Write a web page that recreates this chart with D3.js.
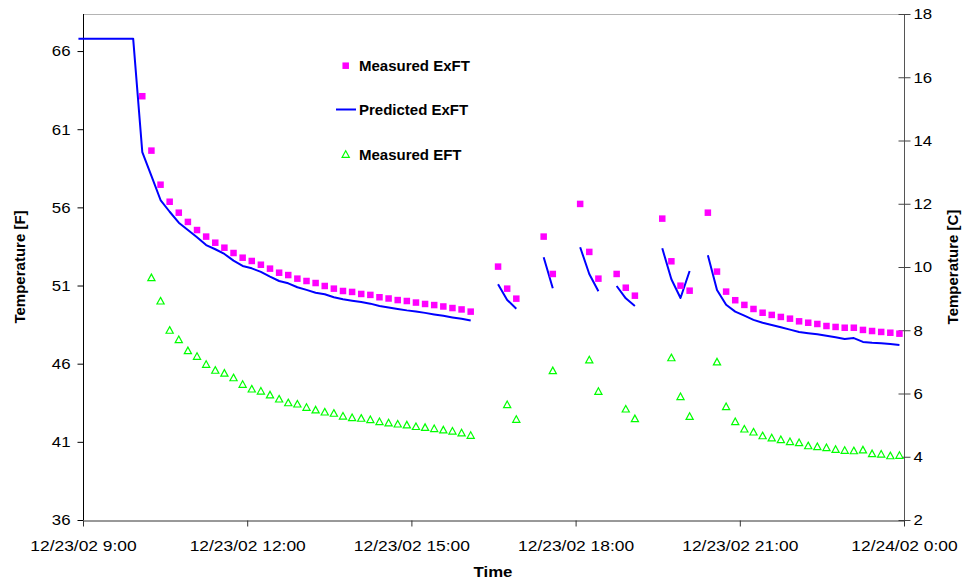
<!DOCTYPE html>
<html>
<head>
<meta charset="utf-8">
<script src="https://cdn.jsdelivr.net/npm/d3@7/dist/d3.min.js"></script>
<style>
  html, body { margin: 0; padding: 0; background: #fff; }
  svg { display: block; font-family: "Liberation Sans", Arial, sans-serif; }
</style>
</head>
<body>
<svg id="chart" width="963" height="581"></svg>
<script>
// Samples are logged every 10 minutes, starting at 8:55 on 12/23/02.
const sampleStart = new Date(2002, 11, 23, 8, 55);
const sampleStepMinutes = 10;

// Measured exiting fluid temperature [F] (null = no reading)
const measuredExFT = [
  null, null, null, null, null, null, null,
  63.11, 59.63, 57.45, 56.36, 55.66, 55.07, 54.55, 54.13, 53.74, 53.42,
  53.08, 52.78, 52.57, 52.33, 52.08, 51.82, 51.67, 51.44, 51.29, 51.16,
  50.97, 50.80, 50.65, 50.59, 50.46, 50.40, 50.25,
  50.17, 50.07, 50.01, 49.91, 49.82, 49.75, 49.66, 49.56, 49.47, 49.33,
  null, null,
  52.21, 50.80, 50.16,
  null, null,
  54.13, 51.74,
  null, null,
  56.22, 53.15, 51.44,
  null,
  51.74, 50.86, 50.35,
  null, null,
  55.28, 52.55, 50.99, 50.67,
  null,
  55.66, 51.89, 50.61, 50.06,
  49.76, 49.50, 49.26, 49.12, 48.99, 48.88, 48.71, 48.62, 48.54, 48.41,
  48.35, 48.30, 48.30, 48.16, 48.09, 48.03, 47.98, 47.92
];

// Predicted exiting fluid temperature [F]
const predictedExFT = [
  66.79, 66.79, 66.79, 66.79, 66.79, 66.79, 66.79,
  59.53, 58.01, 56.47, 55.72, 55.02, 54.55, 54.09, 53.59, 53.32, 53.02,
  52.59, 52.25, 52.10, 51.87, 51.57, 51.29, 51.14, 50.89, 50.72, 50.54,
  50.44, 50.25, 50.12, 50.03, 49.95, 49.84, 49.69,
  49.60, 49.50, 49.41, 49.34, 49.25, 49.15, 49.06, 48.96, 48.87, 48.76,
  null, null,
  51.08, 50.08, 49.52,
  null, null,
  52.81, 50.82,
  null, null,
  53.45, 51.74, 50.63,
  null,
  50.97, 50.18, 49.69,
  null, null,
  53.38, 51.40, 50.20, 51.93,
  null,
  52.94, 50.72, 49.77, 49.33,
  49.07, 48.80, 48.62, 48.48, 48.33, 48.18, 48.03, 47.95, 47.88, 47.79,
  47.69, 47.58, 47.64, 47.39, 47.34, 47.31, 47.26, 47.20
];

// Measured entering fluid temperature [F]
const measuredEFT = [
  null, null, null, null, null, null, null, null,
  51.50, 50.01, 48.14, 47.54, 46.83, 46.47, 45.96, 45.58, 45.39,
  45.10, 44.68, 44.38, 44.25, 44.00, 43.74, 43.50, 43.42, 43.21, 43.04,
  42.91, 42.83, 42.65, 42.55, 42.51, 42.42, 42.29,
  42.21, 42.14, 42.08, 41.98, 41.92, 41.85, 41.76, 41.69, 41.57, 41.42,
  null, null,
  null, 43.38, 42.44,
  null, null,
  null, 45.55,
  null, null,
  null, 46.24, 44.23,
  null,
  null, 43.10, 42.48,
  null, null,
  null, 46.38, 43.89, 42.63,
  null,
  null, 46.11, 43.25, 42.29,
  41.82, 41.63, 41.39, 41.25, 41.14, 41.01, 40.95, 40.75, 40.69, 40.63,
  40.52, 40.46, 40.43, 40.48, 40.24, 40.22, 40.11, 40.14
];

// Axis settings
const timeStart = new Date(2002, 11, 23, 9, 0);
const timeEnd = new Date(2002, 11, 24, 0, 0);
const leftTicksF = [36, 41, 46, 51, 56, 61, 66];
const leftDomainF = [36, 68.37];
const rightTicksC = [2, 4, 6, 8, 10, 12, 14, 16, 18];
const rightDomainC = [2, 18];

const seriesNames = ["Measured ExFT", "Predicted ExFT", "Measured EFT"];

const times = measuredExFT.map((_, i) => d3.timeMinute.offset(sampleStart, i * sampleStepMinutes));

const svg = d3.select("#chart");
const plot = { left: 83, right: 904, top: 14, bottom: 520 };

const x = d3.scaleTime().domain([timeStart, timeEnd]).range([plot.left, plot.right]);
const yF = d3.scaleLinear().domain(leftDomainF).range([plot.bottom, plot.top]);
const yC = d3.scaleLinear().domain(rightDomainC).range([plot.bottom, plot.top]);

const magenta = "#ff00ff", blue = "#0000ff", green = "#00ff00";
const fontSize = "15px";
const fontFamily = "Liberation Sans, Arial, sans-serif";

// widen axis lettering slightly, as the chart's text is set wide
function widen(sel, k) {
  sel.each(function () {
    const w = this.getComputedTextLength();
    d3.select(this).attr("textLength", w * k).attr("lengthAdjust", "spacingAndGlyphs");
  });
}

// top frame line
svg.append("line")
  .attr("x1", plot.left).attr("x2", plot.right)
  .attr("y1", plot.top + 0.5).attr("y2", plot.top + 0.5)
  .attr("stroke", "#b4b4b4").attr("stroke-width", 1);

// left axis (F)
const gLeft = svg.append("g")
  .attr("transform", `translate(${plot.left + 0.5},0)`)
  .call(d3.axisLeft(yF).tickValues(leftTicksF).tickSize(6).tickSizeOuter(0).tickPadding(7));
gLeft.select(".domain").attr("stroke", "#000").attr("d", `M0,${plot.top}V${plot.bottom}`);
gLeft.selectAll(".tick line").attr("stroke", "#000");
gLeft.selectAll(".tick text").attr("font-size", fontSize).attr("fill", "#000")
  .attr("font-family", fontFamily).call(widen, 1.12);

// right axis (C), ticks crossing the axis
const gRight = svg.append("g")
  .attr("transform", `translate(${plot.right + 0.5},0)`)
  .call(d3.axisRight(yC).tickValues(rightTicksC).tickSize(6).tickSizeOuter(0).tickPadding(3));
gRight.select(".domain").attr("stroke", "#555").attr("d", `M0,${plot.top}V${plot.bottom}`);
gRight.selectAll(".tick line").attr("stroke", "#444").attr("x1", -6).attr("x2", 6);
gRight.selectAll(".tick text").attr("font-size", fontSize).attr("fill", "#000")
  .attr("font-family", fontFamily).call(widen, 1.12);

// bottom time axis
const fmt = d3.timeFormat("%m/%d/%y %-H:%M");
const gBottom = svg.append("g")
  .attr("transform", `translate(0,${plot.bottom + 0.5})`)
  .call(d3.axisBottom(x).ticks(d3.timeHour.every(3)).tickFormat(fmt).tickSize(6).tickSizeOuter(0).tickPadding(14));
gBottom.select(".domain").attr("stroke", "#333");
gBottom.selectAll(".tick line").attr("stroke", "#333");
gBottom.selectAll(".tick text").attr("font-size", fontSize).attr("fill", "#000")
  .attr("font-family", fontFamily).call(widen, 1.16);

// axis titles
svg.append("text")
  .attr("transform", `translate(25,267) rotate(-90)`)
  .attr("text-anchor", "middle").attr("font-weight", "bold").attr("font-size", fontSize)
  .text("Temperature [F]");
svg.append("text")
  .attr("transform", `translate(958,267) rotate(-90)`)
  .attr("text-anchor", "middle").attr("font-weight", "bold").attr("font-size", fontSize)
  .text("Temperature [C]");
svg.append("text")
  .attr("x", 493).attr("y", 577)
  .attr("text-anchor", "middle").attr("font-weight", "bold").attr("font-size", fontSize)
  .text("Time").call(widen, 1.12);

// data rows
const rows = times.map((t, i) => ({
  t, exft: measuredExFT[i], pred: predictedExFT[i], eft: measuredEFT[i]
}));

// predicted line (broken where there is no value)
const line = d3.line()
  .defined(d => d.pred != null)
  .x(d => x(d.t)).y(d => yF(d.pred));
svg.append("path")
  .datum(rows)
  .attr("fill", "none").attr("stroke", blue).attr("stroke-width", 2)
  .attr("stroke-linejoin", "round")
  .attr("d", line);

// measured ExFT squares
const sq = 6.5;
svg.append("g").selectAll("rect")
  .data(rows.filter(d => d.exft != null))
  .join("rect")
  .attr("x", d => x(d.t) - sq / 2).attr("y", d => yF(d.exft) - sq / 2)
  .attr("width", sq).attr("height", sq)
  .attr("fill", magenta);

// measured EFT triangles
const tri = "M0,-3.6L3.6,3L-3.6,3Z";
svg.append("g").selectAll("path")
  .data(rows.filter(d => d.eft != null))
  .join("path")
  .attr("transform", d => `translate(${x(d.t)},${yF(d.eft)})`)
  .attr("d", tri)
  .attr("fill", "#fff").attr("stroke", green).attr("stroke-width", 1.2);

// legend
const lg = svg.append("g").attr("font-weight", "bold").attr("font-size", fontSize);
lg.append("rect").attr("x", 345.7 - sq / 2).attr("y", 65.7 - sq / 2).attr("width", sq).attr("height", sq).attr("fill", magenta);
lg.append("text").attr("x", 359).attr("y", 71).text(seriesNames[0]);
lg.append("line").attr("x1", 336).attr("x2", 356).attr("y1", 109.5).attr("y2", 109.5).attr("stroke", blue).attr("stroke-width", 2);
lg.append("text").attr("x", 359).attr("y", 115).text(seriesNames[1]);
lg.append("path").attr("transform", "translate(345.7,154.3)").attr("d", tri)
  .attr("fill", "#fff").attr("stroke", green).attr("stroke-width", 1.2);
lg.append("text").attr("x", 359).attr("y", 159.5).text(seriesNames[2]);
</script>
</body>
</html>
